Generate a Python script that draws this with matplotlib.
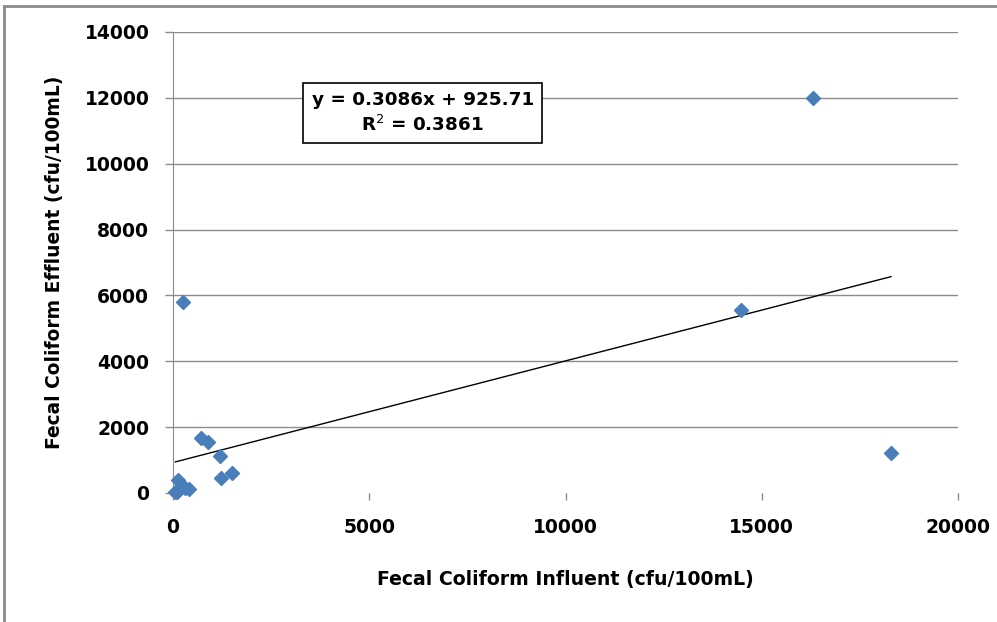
import matplotlib
matplotlib.use('Agg')
import matplotlib.pyplot as plt
import numpy as np
from matplotlib.lines import Line2D

# data
influent = [60, 100, 140, 300, 420, 705, 900, 1200, 1225, 1495, 255, 14470, 16300, 18290]
effluent = [20, 40, 390, 150, 110, 1660, 1540, 1135, 446, 600, 5800, 5557, 12000, 1215]
slope, intercept = 0.3086, 925.71
r2 = 0.3861

x_ticks = [0, 5000, 10000, 15000, 20000]
y_ticks = [0, 2000, 4000, 6000, 8000, 10000, 12000, 14000]

plt.rcParams['font.family'] = ['DejaVu Sans']

fig = plt.figure(figsize=(9.97, 6.22), dpi=100)
ax = fig.add_axes([0.1735, 0.2074, 0.961 - 0.1735, 0.9486 - 0.2074])

ax.set_xlim(0, 20000)
ax.set_ylim(0, 14000)
ax.set_xticks(x_ticks)
ax.set_yticks(y_ticks)

ax.grid(axis='y', color='#8c8c8c', lw=1.0)
ax.yaxis.get_gridlines()[0].set_visible(False)
ax.set_axisbelow(True)

xs = np.array([min(influent), max(influent)])
ax.plot(xs, slope * xs + intercept, color='black', lw=1.0, zorder=2)
ax.plot(influent, effluent, ls='none', marker='D', ms=7.5, color='#4a7ebb',
        mec='#4a7ebb', zorder=3, clip_on=False)

ax.set_xticklabels([str(v) for v in x_ticks], fontsize=13.5, fontweight='bold')
ax.set_yticklabels([str(v) for v in y_ticks], fontsize=13.5, fontweight='bold')
ax.tick_params(axis='y', length=6, width=1, color='#8c8c8c', pad=11)
ax.tick_params(axis='x', length=5, width=1, color='#8c8c8c', pad=13, direction='out')

for s in ['top', 'right', 'bottom']:
    ax.spines[s].set_visible(False)
ax.spines['left'].set_color('#8c8c8c')

ax.set_xlabel('Fecal Coliform Influent (cfu/100mL)', fontsize=13.6, fontweight='bold', labelpad=24)
ax.set_ylabel('Fecal Coliform Effluent (cfu/100mL)', fontsize=13.4, fontweight='bold', labelpad=15)

ax.text(0.318, 0.824, f'y = {slope}x + {intercept}\nR$^2$ = {r2}', transform=ax.transAxes,
        ha='center', va='center', fontsize=13.2, fontweight='bold', linespacing=1.35,
        bbox=dict(boxstyle='square,pad=0.45', fc='white', ec='black', lw=1.2))

# outer chart-area border (top and left edges visible)
fig.add_artist(Line2D([0.004, 1.0], [0.991, 0.991], color='#8c8c8c', lw=2))
fig.add_artist(Line2D([0.004, 0.004], [0.0, 0.991], color='#8c8c8c', lw=2))

fig.savefig('out.png', dpi=100)
